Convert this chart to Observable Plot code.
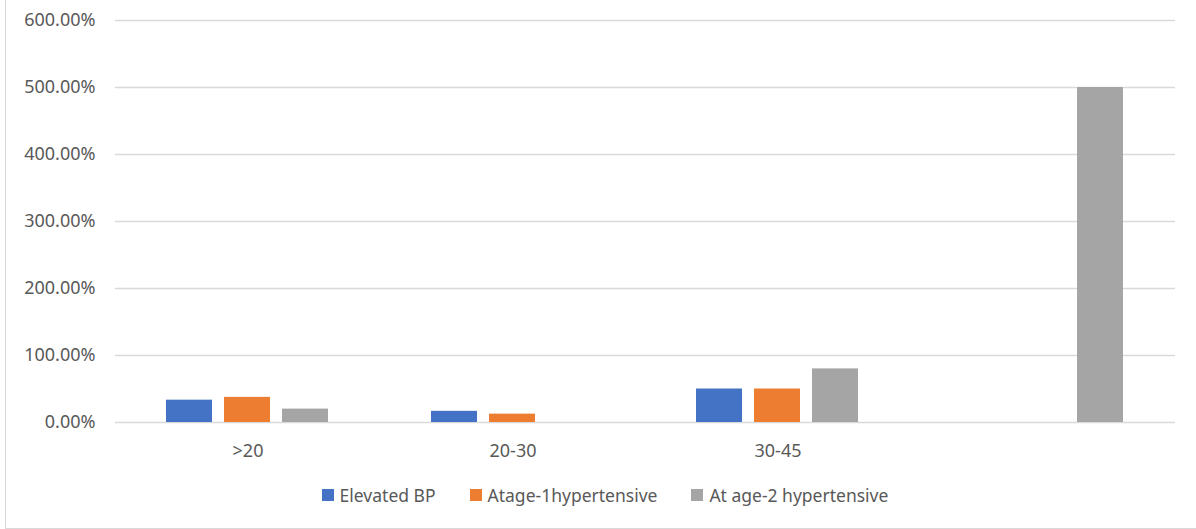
<!DOCTYPE html>
<html><head><meta charset="utf-8">
<script src="https://cdn.jsdelivr.net/npm/d3@7"></script>
<script src="https://cdn.jsdelivr.net/npm/@observablehq/plot@0.6"></script>
<style>
body{margin:0;background:#fff;font-family:"Noto Sans",sans-serif;width:1196px;height:529px;overflow:hidden;position:relative}
#frame{position:absolute;left:5px;top:-2px;width:1200px;height:531px;border-left:1.5px solid #d9d9d9;border-bottom:1.5px solid #d9d9d9;box-sizing:border-box}
#chart{position:absolute;left:0;top:0}
#legend{position:absolute;top:483px;left:5px;width:1200px;display:flex;justify-content:center;gap:34px;font-size:17.5px;color:#595959}
#legend .item{display:flex;align-items:center;gap:6px}
#legend .sw{width:12px;height:12px;display:inline-block}
</style>
</head><body>
<div id="frame"></div>
<div id="chart"></div>
<div id="legend"></div>
<script>
const categories = [">20", "20-30", "30-45", " "];
const series = ["Elevated BP", "Atage-1hypertensive", "At age-2 hypertensive"];
const elevatedBP = [33.33, 16.67, 50, null];
const atAge1 = [37.5, 12.5, 50, null];
const atAge2 = [20, null, 80, 500];
const colors = ["#4472C4", "#ED7D31", "#A5A5A5"];
const yTicks = [0, 100, 200, 300, 400, 500, 600];

const valuesBySeries = [elevatedBP, atAge1, atAge2];
const data = [];
categories.forEach((c, i) => {
  series.forEach((s, j) => {
    const v = valuesBySeries[j][i];
    if (v != null) data.push({cat: c, series: s, value: v});
  });
});

const chart = Plot.plot({
  width: 1196,
  height: 470,
  marginLeft: 113,
  marginRight: 20,
  marginTop: 20,
  marginBottom: 48,
  style: {fontSize: "18px", fontFamily: "Noto Sans", color: "#595959", background: "transparent"},
  fx: {domain: categories, padding: 0, label: null, axis: "bottom", tickSize: 0, tickPadding: 22},
  x: {domain: series, paddingInner: 0.2, paddingOuter: 0.85, axis: null},
  y: {domain: [0, 600], ticks: yTicks, tickFormat: d => d.toFixed(2) + "%", label: null, tickSize: 0, tickPadding: 20},
  color: {domain: series, range: colors},
  marks: [
    Plot.gridY(yTicks, {stroke: "#d9d9d9", strokeOpacity: 1, strokeWidth: 1.5}),
    Plot.barY(data, {fx: "cat", x: "series", y: "value", fill: "series"})
  ]
});
document.getElementById("chart").appendChild(chart);

const legend = document.getElementById("legend");
series.forEach((s, j) => {
  const it = document.createElement("div");
  it.className = "item";
  const sw = document.createElement("span");
  sw.className = "sw";
  sw.style.background = colors[j];
  const t = document.createElement("span");
  t.textContent = s;
  it.appendChild(sw); it.appendChild(t);
  legend.appendChild(it);
});
</script>
</body></html>
